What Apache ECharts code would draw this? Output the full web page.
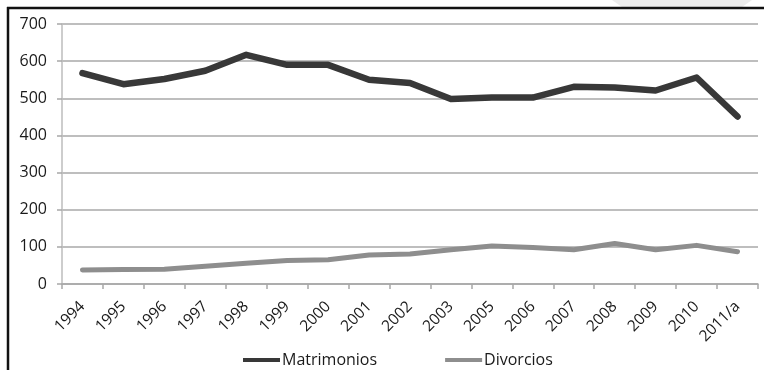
<!DOCTYPE html>
<html>
<head>
<meta charset="utf-8">
<script src="https://cdn.jsdelivr.net/npm/echarts@6/dist/echarts.min.js"></script>
<style>
  html, body { margin: 0; padding: 0; background: #fff; }
  #chart { width: 764px; height: 370px; }
</style>
</head>
<body>
<div id="chart"></div>
<script>
// Years shown on the horizontal axis (2004 is not reported)
const years = ['1994', '1995', '1996', '1997', '1998', '1999', '2000', '2001', '2002',
               '2003', '2005', '2006', '2007', '2008', '2009', '2010', '2011/a'];

// Marriages per year
const matrimonios = [568, 538, 552, 574, 617, 590, 590, 550, 541, 498, 502, 502, 531, 529, 521, 556, 451];

// Divorces per year
const divorcios = [38, 39, 40, 48, 56, 63, 65, 78, 81, 92, 102, 98, 92, 109, 92, 104, 87];

// Value axis ticks
const yTicks = [0, 100, 200, 300, 400, 500, 600, 700];

const font = '"Open Sans", "DejaVu Sans", sans-serif';

const chart = echarts.init(document.getElementById('chart'), null, { renderer: 'canvas' });

chart.setOption({
  animation: false,
  backgroundColor: '#ffffff',
  textStyle: { fontFamily: font },
  grid: { left: 62, right: 6, top: 24, bottom: 86, containLabel: false },
  legend: {
    left: 238,
    top: 347,
    itemGap: 68,
    itemWidth: 37,
    itemHeight: 4,
    icon: 'rect',
    textStyle: { fontFamily: font, fontSize: 16, color: '#1a1a1a', padding: [0, 0, 0, -3] },
    data: ['Matrimonios', 'Divorcios']
  },
  xAxis: {
    type: 'category',
    data: years,
    boundaryGap: true,
    axisLine: { show: true, lineStyle: { color: '#a8a8a8', width: 1.5 } },
    axisTick: { show: true, length: 5, lineStyle: { color: '#a8a8a8', width: 1.5 } },
    axisLabel: { rotate: 45, fontSize: 15.5, color: '#1a1a1a', margin: 20, fontFamily: font, interval: 0 },
    splitLine: { show: false }
  },
  yAxis: {
    type: 'value',
    min: yTicks[0],
    max: yTicks[yTicks.length - 1],
    interval: 100,
    axisLine: { show: true, lineStyle: { color: '#bdbdbd', width: 1.5 } },
    axisTick: { show: true, length: 5, lineStyle: { color: '#a8a8a8', width: 1.5 } },
    axisLabel: { fontSize: 16, color: '#1a1a1a', margin: 15, fontFamily: font },
    splitLine: { show: true, lineStyle: { color: '#a8a8a8', width: 1.5 } }
  },
  series: [
    {
      name: 'Matrimonios',
      type: 'line',
      data: matrimonios,
      showSymbol: false,
      symbol: 'none',
      color: '#383838',
      lineStyle: { color: '#383838', width: 6.5, cap: 'round', join: 'round' },
      z: 3
    },
    {
      name: 'Divorcios',
      type: 'line',
      data: divorcios,
      showSymbol: false,
      symbol: 'none',
      color: '#8e8e8e',
      lineStyle: { color: '#8e8e8e', width: 5, cap: 'round', join: 'round' },
      z: 2
    }
  ],
  graphic: [
    // Faint grey shape in the upper right corner
    {
      type: 'polygon',
      shape: { points: [[612, 0], [752, 0], [742, 7], [622, 7]] },
      style: { fill: '#ececec' },
      silent: true
    },
    // Frame lines along the top and left edges
    {
      type: 'line',
      shape: { x1: 7, y1: 8, x2: 764, y2: 8 },
      style: { stroke: '#111', lineWidth: 2.5 },
      silent: true
    },
    {
      type: 'line',
      shape: { x1: 8, y1: 7, x2: 8, y2: 370 },
      style: { stroke: '#111', lineWidth: 2.5 },
      silent: true
    }
  ]
});
</script>
</body>
</html>
